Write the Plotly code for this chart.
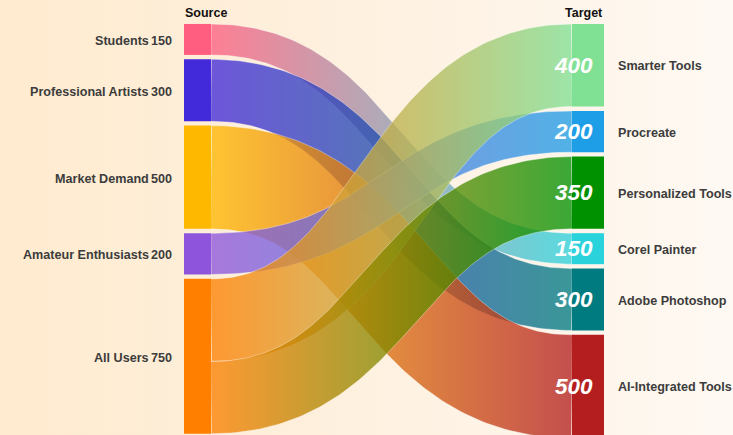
import numpy as np
import plotly.graph_objects as go

# ---------------- data ----------------
source_names = ["Students", "Professional Artists", "Market Demand", "Amateur Enthusiasts", "All Users"]
source_values = [150, 300, 500, 200, 750]
source_colors = ["#FF5E80", "#4229DA", "#FFB800", "#8E54DC", "#FF8000"]

target_names = ["Smarter Tools", "Procreate", "Personalized Tools", "Corel Painter", "Adobe Photoshop", "AI-Integrated Tools"]
target_values = [400, 200, 350, 150, 300, 500]
target_colors = ["#80E094", "#1E9EE6", "#009100", "#2AD2DC", "#007B80", "#B41E1E"]

link_source = ["Students", "Professional Artists", "Market Demand", "Amateur Enthusiasts", "All Users", "All Users"]
link_target = ["Corel Painter", "Adobe Photoshop", "AI-Integrated Tools", "Procreate", "Smarter Tools", "Personalized Tools"]
link_value = [150, 300, 500, 200, 400, 350]

# ---------------- layout constants ----------------
W, H = 733, 435
Y_MIN, Y_MAX = -116, 1990          # value units shown on the (reversed) y axis
GAP = 21                           # gap between nodes, value units
SRC_X = (184, 211)
TGT_X = (572, 604)
K = H / (Y_MAX - Y_MIN)            # px per value unit
FONT = "Arial, Liberation Sans, sans-serif"


def stack(values):
    y0, pos = [], 0.0
    for v in values:
        y0.append(pos)
        pos += v + GAP
    return y0


src_y0 = stack(source_values)
tgt_y0 = stack(target_values)
src_idx = {n: i for i, n in enumerate(source_names)}
tgt_idx = {n: i for i, n in enumerate(target_names)}

# offsets of links within nodes
src_off = {}
for s in source_names:
    ls = [i for i in range(len(link_value)) if link_source[i] == s]
    ls.sort(key=lambda i: tgt_y0[tgt_idx[link_target[i]]])
    o = 0
    for i in ls:
        src_off[i] = o
        o += link_value[i]
tgt_off = {}
for t in target_names:
    ls = [i for i in range(len(link_value)) if link_target[i] == t]
    ls.sort(key=lambda i: src_y0[src_idx[link_source[i]]])
    o = 0
    for i in ls:
        tgt_off[i] = o
        o += link_value[i]

fig = go.Figure()

# background gradient
fig.add_trace(go.Scatter(
    x=[0, W, W, 0, 0], y=[Y_MIN, Y_MIN, Y_MAX, Y_MAX, Y_MIN],
    mode="lines", line=dict(width=0), fill="toself",
    fillgradient=dict(type="horizontal", colorscale=[[0, "#FFEBCF"], [0.45, "#FEF0DE"], [1, "#FEF9F3"]],
                      start=0, stop=W),
    hoverinfo="skip", showlegend=False))


def to_px(y):
    return (np.asarray(y) - Y_MIN) * K


def from_px(p):
    return np.asarray(p) / K + Y_MIN


t = np.linspace(0, 1, 120)
for i, v in enumerate(link_value):
    si = src_idx[link_source[i]]
    ti = tgt_idx[link_target[i]]
    ys = to_px(src_y0[si] + src_off[i] + v / 2)
    yt = to_px(tgt_y0[ti] + tgt_off[i] + v / 2)
    x0, x1 = SRC_X[1], TGT_X[0]
    xm = (x0 + x1) / 2
    a, b, c, d = (1 - t) ** 3, 3 * (1 - t) ** 2 * t, 3 * (1 - t) * t ** 2, t ** 3
    cx = a * x0 + b * xm + c * xm + d * x1
    cy = (a + b) * ys + (c + d) * yt
    dx = np.gradient(cx)
    dy = np.gradient(cy)
    nrm = np.hypot(dx, dy)
    nx, ny = -dy / nrm, dx / nrm
    hw = v * K / 2
    tx, ty = cx + nx * hw, cy + ny * hw
    bx, by = cx - nx * hw, cy - ny * hw
    px = np.concatenate([tx, bx[::-1], tx[:1]])
    py = np.concatenate([ty, by[::-1], ty[:1]])
    fig.add_trace(go.Scatter(
        x=px, y=from_px(py), mode="lines", fill="toself",
        line=dict(color="rgba(255,255,255,0.45)", width=1),
        fillgradient=dict(type="horizontal",
                          colorscale=[[0, source_colors[si]], [1, target_colors[ti]]],
                          start=x0, stop=x1),
        opacity=0.77, hoverinfo="skip", showlegend=False))

shapes = []
annotations = []
for i, n in enumerate(source_names):
    y0 = src_y0[i]
    y1 = y0 + source_values[i]
    shapes.append(dict(type="rect", xref="x", yref="y", x0=SRC_X[0], x1=SRC_X[1], y0=y0, y1=y1,
                       fillcolor=source_colors[i], line=dict(width=0), layer="above"))
    yc = (y0 + y1) / 2
    annotations.append(dict(x=150, y=yc, xref="x", yref="y", text="<b>%s</b>" % n, showarrow=False,
                            xanchor="right", yanchor="middle", yshift=-1.5, borderpad=0,
                            font=dict(family=FONT, size=12.6, color="#3C3C3C")))
    annotations.append(dict(x=173, y=yc, xref="x", yref="y", text="<b>%d</b>" % source_values[i], showarrow=False,
                            xanchor="right", yanchor="middle", yshift=-1.5, borderpad=0,
                            font=dict(family=FONT, size=12.6, color="#3C3C3C")))

for i, n in enumerate(target_names):
    y0 = tgt_y0[i]
    y1 = y0 + target_values[i]
    shapes.append(dict(type="rect", xref="x", yref="y", x0=TGT_X[0], x1=TGT_X[1], y0=y0, y1=y1,
                       fillcolor=target_colors[i], line=dict(width=0), layer="above"))
    yc = (y0 + y1) / 2
    annotations.append(dict(x=617, y=yc, xref="x", yref="y", text="<b>%s</b>" % n, showarrow=False,
                            xanchor="left", yanchor="middle", yshift=-1, borderpad=0,
                            font=dict(family=FONT, size=12.6, color="#3C3C3C")))
    annotations.append(dict(x=594, y=yc, xref="x", yref="y", text="<b><i>%d</i></b>" % target_values[i],
                            showarrow=False, xanchor="right", yanchor="middle", yshift=0, borderpad=0,
                            font=dict(family=FONT, size=22.5, color="white")))

annotations.append(dict(x=SRC_X[0], y=Y_MIN, xref="x", yref="y", text="<b>Source</b>", showarrow=False,
                        xanchor="left", yanchor="top", yshift=-5, borderpad=0,
                        font=dict(family=FONT, size=12.5, color="#111111")))
annotations.append(dict(x=TGT_X[1], y=Y_MIN, xref="x", yref="y", text="<b>Target</b>", showarrow=False,
                        xanchor="right", yanchor="top", yshift=-5, borderpad=0,
                        font=dict(family=FONT, size=12.5, color="#111111")))

fig.update_layout(
    width=W, height=H, margin=dict(l=0, r=0, t=0, b=0),
    paper_bgcolor="#FFEBCF", plot_bgcolor="rgba(0,0,0,0)",
    xaxis=dict(range=[0, W], visible=False, fixedrange=True),
    yaxis=dict(range=[Y_MAX, Y_MIN], visible=False, fixedrange=True),
    shapes=shapes, annotations=annotations, showlegend=False,
)

fig.write_html("out.html")
